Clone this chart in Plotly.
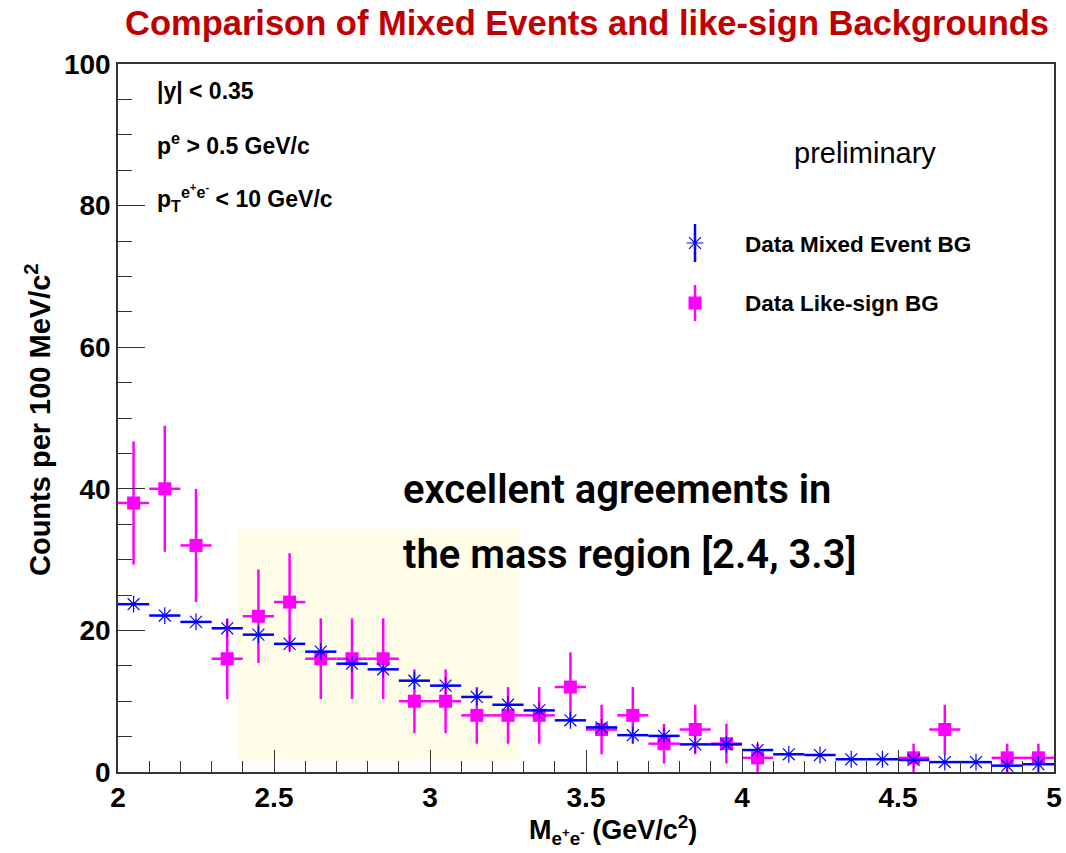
import plotly.graph_objects as go

# Invariant-mass bins (GeV/c^2), 100 MeV wide
bin_centers = [2.05, 2.15, 2.25, 2.35, 2.45, 2.55, 2.65, 2.75, 2.85, 2.95,
               3.05, 3.15, 3.25, 3.35, 3.45, 3.55, 3.65, 3.75, 3.85, 3.95,
               4.05, 4.15, 4.25, 4.35, 4.45, 4.55, 4.65, 4.75, 4.85, 4.95]
half_width = 0.05

# Mixed-event background (normalised)
mixed_counts = [23.7, 22.1, 21.2, 20.3, 19.4, 18.1, 17.0, 15.3, 14.5, 12.9,
                12.2, 10.6, 9.5, 8.7, 7.3, 6.3, 5.2, 5.1, 3.9, 3.9,
                3.1, 2.5, 2.4, 1.8, 1.8, 1.7, 1.4, 1.4, 0.9, 1.1]

# Like-sign background (only non-empty bins)
ls_centers = [2.05, 2.15, 2.25, 2.35, 2.45, 2.55, 2.65, 2.75, 2.85, 2.95,
              3.05, 3.15, 3.25, 3.35, 3.45, 3.55, 3.65, 3.75, 3.85, 3.95,
              4.05, 4.55, 4.65, 4.85, 4.95]
ls_counts = [38, 40, 32, 16, 22, 24, 16, 16, 16, 10,
             10, 8, 8, 8, 12, 6, 8, 4, 6, 4,
             2, 2, 6, 2, 2]
ls_errors = [8.7, 8.9, 8.0, 5.7, 6.6, 6.9, 5.7, 5.7, 5.7, 4.5,
             4.5, 4.0, 4.0, 4.0, 4.9, 3.5, 4.0, 2.8, 3.5, 2.8,
             2.0, 2.0, 3.5, 2.0, 2.0]

W, H = 1066, 853
L, R, T, B = 118, 12, 64, 81
PW, PH = W - L - R, H - T - B

BLUE = "#0000ff"
MAGENTA = "#ff00ff"
AX = "#333333"


def px(x):
    return (x - L) / PW


def py(y):
    return (H - B - y) / PH


fig = go.Figure()

# Like-sign background
fig.add_trace(go.Scatter(
    x=ls_centers, y=ls_counts, mode="markers",
    marker=dict(symbol="square", size=13, color=MAGENTA),
    error_x=dict(type="constant", value=half_width, color=MAGENTA, thickness=2.5, width=0),
    error_y=dict(type="data", array=ls_errors, color=MAGENTA, thickness=2.5, width=0),
    showlegend=False,
))

# Mixed-event background
fig.add_trace(go.Scatter(
    x=bin_centers, y=mixed_counts, mode="markers",
    marker=dict(symbol="asterisk-open", size=14, color=BLUE,
                line=dict(color=BLUE, width=1.2)),
    error_x=dict(type="constant", value=half_width, color=BLUE, thickness=2.5, width=0),
    showlegend=False,
))

# Highlighted mass window
fig.add_shape(type="rect", xref="x", yref="y", x0=2.385, x1=3.285, y0=1.6, y1=34.3,
              fillcolor="#fffde8", line=dict(width=0), layer="below")

# Legend keys, drawn on an overlay axis spanning the plot area
fig.add_trace(go.Scatter(
    x=[px(695)], y=[py(243)], xaxis="x2", yaxis="y2", mode="markers",
    marker=dict(symbol="asterisk-open", size=14, color=BLUE, line=dict(color=BLUE, width=1.2)),
    error_y=dict(type="constant", value=py(224) - py(243), color=BLUE, thickness=2.5, width=0),
    showlegend=False, hoverinfo="skip",
))
fig.add_trace(go.Scatter(
    x=[px(695)], y=[py(303)], xaxis="x2", yaxis="y2", mode="markers",
    marker=dict(symbol="square", size=13, color=MAGENTA),
    error_y=dict(type="constant", value=py(285) - py(303), color=MAGENTA, thickness=2.5, width=0),
    showlegend=False, hoverinfo="skip",
))

TEXT = "Liberation Sans, Arial, sans-serif"


def note(text, x, y, size, xanchor="left", bold=True, color="black", family=TEXT, weight=None):
    fig.add_annotation(
        text=text, xref="paper", yref="paper", x=px(x), y=py(y),
        xanchor=xanchor, yanchor="middle", showarrow=False,
        font=dict(family=family, size=size, color=color,
                  weight=weight if weight is not None else ("bold" if bold else "normal")),
    )


note("Comparison of Mixed Events and like-sign Backgrounds", 587, 23, 34.5,
     xanchor="center", color="#c00000")
note("|y| < 0.35", 155, 91, 23)
note("p<sup>e</sup> > 0.5 GeV/c", 155, 144, 23)
note("p<sub>T</sub><sup>e<sup>+</sup>e<sup>-</sup></sup> < 10 GeV/c", 155, 198, 23)
note("preliminary", 865, 153, 29, xanchor="center", bold=False)
note("Data Mixed Event BG", 743, 244, 22.5)
note("Data Like-sign BG", 743, 303, 22.5)
note("excellent agreements in", 401, 489, 40, family="Roboto, sans-serif", weight=600)
note("the mass region [2.4, 3.3]", 401, 554, 40, family="Roboto, sans-serif", weight=600)
note("M<sub>e<sup>+</sup>e<sup>-</sup></sub> (GeV/c<sup>2</sup>)", 613, 830, 27, xanchor="center")

fig.add_annotation(
    text="Counts per 100 MeV/c<sup>2</sup>", xref="paper", yref="paper",
    x=px(38), y=py(420), textangle=-90, showarrow=False,
    xanchor="center", yanchor="middle",
    font=dict(family=TEXT, size=29, color="black", weight="bold"),
)

fig.update_layout(
    width=W, height=H,
    margin=dict(l=L, r=R, t=T, b=B, autoexpand=False),
    paper_bgcolor="white", plot_bgcolor="white",
    xaxis=dict(
        range=[2, 5], tickmode="array", automargin=False,
        tickvals=[2, 2.5, 3, 3.5, 4, 4.5, 5], ticktext=["2", "2.5", "3", "3.5", "4", "4.5", "5"],
        ticks="inside", ticklen=22, tickwidth=1.2, tickcolor=AX,
        minor=dict(dtick=0.1, ticks="inside", ticklen=11, tickwidth=1.2, tickcolor=AX),
        showline=True, linecolor=AX, linewidth=1.5, mirror=True,
        showgrid=False, zeroline=False,
        tickfont=dict(family=TEXT, size=28, color="black", weight="bold"),
    ),
    yaxis=dict(
        range=[0, 100], tickmode="array", automargin=False,
        tickvals=[0, 20, 40, 60, 80, 100],
        ticks="inside", ticklen=27, tickwidth=1.2, tickcolor=AX,
        minor=dict(dtick=5, ticks="inside", ticklen=14, tickwidth=1.2, tickcolor=AX),
        showline=True, linecolor=AX, linewidth=1.5, mirror=True,
        showgrid=False, zeroline=False,
        tickfont=dict(family=TEXT, size=28, color="black", weight="bold"),
    ),
    xaxis2=dict(range=[0, 1], overlaying="x", visible=False, fixedrange=True),
    yaxis2=dict(range=[0, 1], overlaying="y", visible=False, fixedrange=True),
)

fig.write_html("out.html")
